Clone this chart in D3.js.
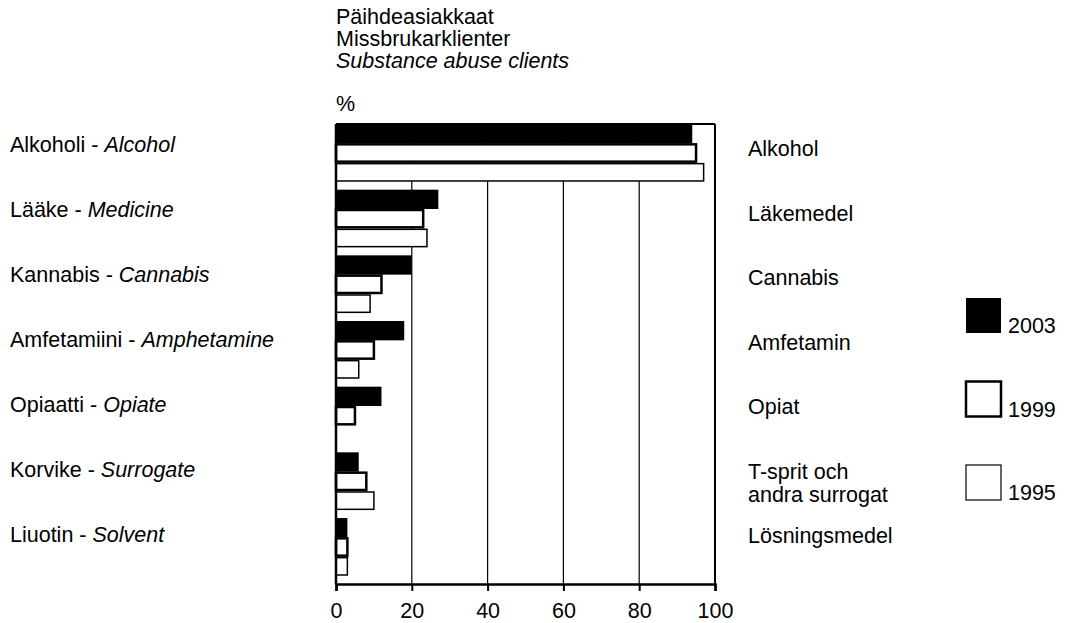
<!DOCTYPE html>
<html>
<head>
<meta charset="utf-8">
<script src="https://cdn.jsdelivr.net/npm/d3@7"></script>
<style>
  body { margin: 0; background: #fff; }
  svg text { font-family: "Liberation Sans", Arial, sans-serif; fill: #000; }
</style>
</head>
<body>
<svg id="chart" width="1068" height="623"></svg>
<script>
// Data
const categories = ['Alkoholi', 'Lääke', 'Kannabis', 'Amfetamiini', 'Opiaatti', 'Korvike', 'Liuotin'];
const labelsFi = ['Alkoholi', 'Lääke', 'Kannabis', 'Amfetamiini', 'Opiaatti', 'Korvike', 'Liuotin'];
const labelsEn = ['Alcohol', 'Medicine', 'Cannabis', 'Amphetamine', 'Opiate', 'Surrogate', 'Solvent'];
const labelsSv = [['Alkohol'], ['Läkemedel'], ['Cannabis'], ['Amfetamin'], ['Opiat'], ['T-sprit och', 'andra surrogat'], ['Lösningsmedel']];
const years = ['2003', '1999', '1995'];
const values2003 = [94, 27, 20, 18, 12, 6, 3];
const values1999 = [95, 23, 12, 10, 5, 8, 3];
const values1995 = [97, 24, 9, 6, 0, 10, 3];
const xTicks = [0, 20, 40, 60, 80, 100];
const titleLines = ['Päihdeasiakkaat', 'Missbrukarklienter', 'Substance abuse clients'];

const seriesByYear = { '2003': values2003, '1999': values1999, '1995': values1995 };
const fontSize = '21.5px';

const svg = d3.select('#chart');

const x = d3.scaleLinear().domain([0, 100]).range([336, 715]);

const y = d3.scaleBand()
  .domain(categories)
  .range([124, 576])
  .paddingInner(0.117)
  .paddingOuter(0);

const yInner = d3.scaleBand()
  .domain(years)
  .range([0, y.bandwidth()]);

// label baselines (labels in the original are spaced slightly tighter than the bars)
const yLeft = d3.scalePoint().domain(categories).range([152, 542]);
const yRight = d3.scalePoint().domain(categories).range([156, 543]);

const plotTop = 124, plotBottom = 584;

// title
svg.append('g').selectAll('text')
  .data(titleLines)
  .enter().append('text')
    .attr('x', 336)
    .attr('y', (d, i) => 24 + i * 22)
    .style('font-size', fontSize)
    .style('font-style', (d, i) => i === 2 ? 'italic' : 'normal')
    .text(d => d);

svg.append('text')
  .attr('x', 336)
  .attr('y', 111)
  .style('font-size', fontSize)
  .text('%');

// gridlines
svg.append('g').selectAll('line')
  .data(xTicks.filter(t => t > 0 && t < 100))
  .enter().append('line')
    .attr('x1', d => x(d)).attr('x2', d => x(d))
    .attr('y1', plotTop).attr('y2', plotBottom)
    .attr('stroke', '#000')
    .attr('stroke-width', 1.2);

// bars
const groups = svg.append('g').selectAll('g')
  .data(categories)
  .enter().append('g')
    .attr('transform', d => `translate(0,${y(d)})`);

groups.selectAll('rect')
  .data((c, i) => years.map(yr => ({ year: yr, value: seriesByYear[yr][i] })).filter(d => d.value > 0))
  .enter().append('rect')
    .attr('x', x(0))
    .attr('y', d => yInner(d.year) + (d.year === '2003' ? 0 : 1))
    .attr('width', d => x(d.value) - x(0))
    .attr('height', d => yInner.bandwidth() - (d.year === '2003' ? 0 : 2))
    .attr('fill', d => d.year === '2003' ? '#000' : '#fff')
    .attr('stroke', '#000')
    .attr('stroke-width', d => d.year === '1999' ? 2.5 : (d.year === '1995' ? 1.5 : 0));

// frame: top, right, left
svg.append('line')
  .attr('x1', x(0)).attr('x2', x(100))
  .attr('y1', plotTop).attr('y2', plotTop)
  .attr('stroke', '#000').attr('stroke-width', 2);
svg.append('line')
  .attr('x1', x(100)).attr('x2', x(100))
  .attr('y1', plotTop).attr('y2', plotBottom)
  .attr('stroke', '#000').attr('stroke-width', 2);
svg.append('line')
  .attr('x1', x(0)).attr('x2', x(0))
  .attr('y1', plotTop).attr('y2', plotBottom)
  .attr('stroke', '#000').attr('stroke-width', 2.5);

// x axis
const xAxis = svg.append('g')
  .attr('transform', `translate(0,${plotBottom})`)
  .call(d3.axisBottom(x).tickValues(xTicks).tickSize(7).tickPadding(12));
xAxis.select('.domain').attr('stroke-width', 2.5);
xAxis.selectAll('.tick line').attr('stroke-width', 2);
xAxis.selectAll('.tick text')
  .style('font-size', fontSize)
  .style('font-family', '"Liberation Sans", Arial, sans-serif');

// left labels
const left = svg.append('g').selectAll('text')
  .data(categories)
  .enter().append('text')
    .attr('x', 10)
    .attr('y', d => yLeft(d))
    .style('font-size', fontSize);
left.append('tspan').text((d, i) => labelsFi[i] + ' - ');
left.append('tspan').style('font-style', 'italic').text((d, i) => labelsEn[i]);

// right labels
const right = svg.append('g').selectAll('text')
  .data(categories)
  .enter().append('text')
    .attr('x', 748)
    .attr('y', d => yRight(d))
    .style('font-size', fontSize);
right.selectAll('tspan')
  .data((d, i) => labelsSv[i])
  .enter().append('tspan')
    .attr('x', 748)
    .attr('dy', (d, i) => i === 0 ? 0 : 23)
    .text(d => d);

// legend
const legendY = d3.scalePoint().domain(years).range([298, 465]);
const legend = svg.append('g').selectAll('g')
  .data(years)
  .enter().append('g')
    .attr('transform', d => `translate(966,${legendY(d)})`);
legend.append('rect')
  .attr('width', 35).attr('height', 35)
  .attr('fill', d => d === '2003' ? '#000' : '#fff')
  .attr('stroke', '#000')
  .attr('stroke-width', d => d === '1999' ? 2.5 : (d === '1995' ? 1.2 : 0));
legend.append('text')
  .attr('x', 42)
  .attr('y', 35)
  .style('font-size', fontSize)
  .text(d => d);
</script>
</body>
</html>
